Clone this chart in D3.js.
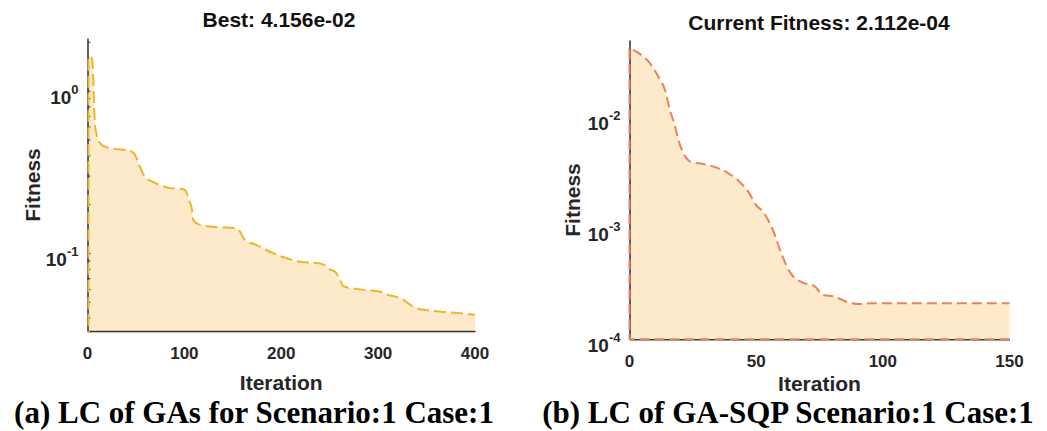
<!DOCTYPE html>
<html>
<head>
<meta charset="utf-8">
<script src="https://cdn.jsdelivr.net/npm/d3@7"></script>
<style>
  html, body { margin: 0; padding: 0; background: #fff; }
  svg { display: block; }
</style>
</head>
<body>
<svg id="chart" width="1047" height="431"></svg>
<script>
// GA learning curve (best fitness per iteration)
const gaIter = [1, 4, 5, 6, 6.8, 7.7, 9, 11, 15, 20, 28, 42, 48, 51, 54, 59, 67, 75, 85, 99, 102.5, 105, 107.6, 109, 116, 130, 154, 157.5, 162.6, 174.7, 185, 199, 206, 219.6, 240, 245, 250.5, 255.7, 260.8, 264, 274, 288, 302, 310.5, 319, 324, 331, 340, 350, 367.7, 381, 400];
const gaFit  = [1.62, 1.60, 1.52, 1.15, 0.80, 0.62, 0.55, 0.50, 0.462, 0.448, 0.438, 0.428, 0.412, 0.38, 0.341, 0.296, 0.275, 0.262, 0.251, 0.247, 0.234, 0.21, 0.189, 0.160, 0.149, 0.145, 0.142, 0.135, 0.120, 0.112, 0.104, 0.0958, 0.0927, 0.0883, 0.0863, 0.0843, 0.079, 0.0767, 0.068, 0.0625, 0.0605, 0.0591, 0.0577, 0.0551, 0.0537, 0.0525, 0.049, 0.0456, 0.0445, 0.0434, 0.0428, 0.04156];

// GA-SQP learning curve (current fitness per iteration)
const sqpIter = [0, 4.2, 8.1, 11.4, 14, 16, 18, 19.3, 21.3, 24.6, 29.1, 34.4, 38.6, 43, 47, 50, 52.7, 56.6, 59.9, 63.2, 68.4, 73, 76.4, 81, 85.6, 90.8, 95, 150];
const sqpFit  = [0.0419, 0.0371, 0.0306, 0.0232, 0.0176, 0.0116, 0.00822, 0.00624, 0.00474, 0.00393, 0.0038, 0.00352, 0.00318, 0.00268, 0.00212, 0.00162, 0.00141, 0.000966, 0.000596, 0.000407, 0.000324, 0.000302, 0.000251, 0.000242, 0.000218, 0.000208, 0.0002112, 0.0002112];

// Tick values
const gaXTicks = [0, 100, 200, 300, 400];
const gaYMajor = [1, 0.1];
const gaYMinor = [0.04, 0.05, 0.06, 0.07, 0.08, 0.09, 0.2, 0.3, 0.4, 0.5, 0.6, 0.7, 0.8, 0.9, 2];
const sqpXTicks = [0, 50, 100, 150];
const sqpYMajor = [1e-4, 1e-3, 1e-2];

const svg = d3.select("#chart");
const TEXT = "#262626";
const FILL = "#FDEACB";

function drawPanel(o) {
  const x = d3.scaleLinear().domain(o.xDomain).range([o.left, o.right]);
  const y = d3.scaleLog().domain(o.yDomain).range([o.bottom, o.top]);
  const g = svg.append("g");

  const clipId = "clip-" + o.id;
  svg.append("clipPath").attr("id", clipId)
    .append("rect")
    .attr("x", o.left - 2).attr("y", o.top)
    .attr("width", o.right - o.left + 4).attr("height", o.bottom - o.top + 2);

  const pts = o.iter.map((d, i) => [d, o.fit[i]]);

  // filled area under the curve
  const area = d3.area()
    .x(d => x(d[0])).y0(y(o.base)).y1(d => y(d[1]))
    .curve(d3.curveMonotoneX);
  g.append("path").datum(pts)
    .attr("clip-path", `url(#${clipId})`)
    .attr("d", area).attr("fill", FILL);

  // axes
  const yAxis = d3.axisLeft(y).tickValues(o.yMajor.concat(o.yMinor || []))
    .tickSizeInner(o.yMinor ? -3 : 0).tickSizeOuter(0).tickFormat("");
  const ya = g.append("g").attr("transform", `translate(${o.left},0)`).call(yAxis);
  ya.select(".domain").attr("stroke", "#3a3a3a").attr("stroke-width", 1.6);
  ya.selectAll(".tick line").attr("stroke", "#3a3a3a").attr("stroke-width", 1);

  const xAxis = d3.axisBottom(x).tickValues(o.xTicks).tickSizeInner(0).tickSizeOuter(0).tickFormat("");
  const xa = g.append("g").attr("transform", `translate(0,${o.bottom})`).call(xAxis);
  xa.select(".domain").attr("stroke", "#3a3a3a").attr("stroke-width", 1.6);

  // dashed outline: baseline, left edge, then the curve
  const line = d3.line().x(d => x(d[0])).y(d => y(d[1])).curve(d3.curveMonotoneX);
  const outline = [[o.xDomain[1], o.base], [o.iter[0], o.base]].map(d => [x(d[0]), y(d[1])]);
  const curveD = line(pts);
  const outlineD = `M${outline[0][0]},${outline[0][1]}L${outline[1][0]},${outline[1][1]}L` + curveD.slice(1);
  g.append("path")
    .attr("clip-path", `url(#${clipId})`)
    .attr("d", outlineD)
    .attr("fill", "none").attr("stroke", o.color)
    .attr("stroke-width", 2).attr("stroke-dasharray", o.dash);

  // x tick labels
  g.selectAll(".xl").data(o.xTicks).join("text")
    .attr("x", d => x(d)).attr("y", o.bottom + o.xLabelDy)
    .attr("text-anchor", "middle").attr("dominant-baseline", "central")
    .attr("font-family", "Liberation Sans, Arial, sans-serif")
    .attr("font-weight", "bold").attr("font-size", 17).attr("fill", TEXT)
    .text(d => d);

  // y tick labels as 10 with a superscript exponent
  o.yMajor.forEach(v => {
    const t = g.append("text")
      .attr("x", o.left - 9).attr("y", y(v) + 6)
      .attr("text-anchor", "end").attr("dominant-baseline", "central")
      .attr("font-family", "Liberation Sans, Arial, sans-serif")
      .attr("font-weight", "bold").attr("fill", TEXT);
    t.append("tspan").attr("font-size", 19).text("10");
    t.append("tspan").attr("font-size", 13).attr("dy", -8)
      .text(String(Math.round(Math.log10(v))));
  });

  // titles and axis labels
  g.append("text").attr("x", o.titleX).attr("y", o.titleY)
    .attr("text-anchor", "middle").attr("dominant-baseline", "central")
    .attr("font-family", "Liberation Sans, Arial, sans-serif")
    .attr("font-weight", "bold").attr("font-size", 21).attr("fill", "#111")
    .text(o.title);
  g.append("text").attr("x", (o.left + o.right) / 2).attr("y", o.xTitleY)
    .attr("text-anchor", "middle").attr("dominant-baseline", "central")
    .attr("font-family", "Liberation Sans, Arial, sans-serif")
    .attr("font-weight", "bold").attr("font-size", 21).attr("fill", TEXT)
    .text("Iteration");
  g.append("text")
    .attr("transform", `translate(${o.yTitleX},${o.yTitleY}) rotate(-90)`)
    .attr("text-anchor", "middle").attr("dominant-baseline", "central")
    .attr("font-family", "Liberation Sans, Arial, sans-serif")
    .attr("font-weight", "bold").attr("font-size", 21).attr("fill", TEXT)
    .text("Fitness");
  g.append("text").attr("x", o.capX).attr("y", 423)
    .attr("text-anchor", "middle")
    .attr("font-family", "Liberation Serif, Times New Roman, serif")
    .attr("font-weight", "bold").attr("font-size", 31).attr("fill", "#000")
    .text(o.caption);
}

drawPanel({
  id: "ga", iter: gaIter, fit: gaFit, base: 0.01,
  xDomain: [0, 400], yDomain: [0.0331, 2.11],
  left: 87.5, right: 475, top: 38, bottom: 331,
  xTicks: gaXTicks, yMajor: gaYMajor, yMinor: gaYMinor,
  color: "#EDB52E", dash: "12,5", xLabelDy: 22,
  title: "Best: 4.156e-02", titleX: 279, titleY: 19,
  xTitleY: 382.5, yTitleX: 32, yTitleY: 185,
  caption: "(a) LC of GAs for Scenario:1 Case:1", capX: 254
});

drawPanel({
  id: "sqp", iter: sqpIter, fit: sqpFit, base: 1e-4,
  xDomain: [0, 150], yDomain: [1e-4, 0.0497],
  left: 629.5, right: 1009.5, top: 40, bottom: 339.3,
  xTicks: sqpXTicks, yMajor: sqpYMajor, yMinor: null,
  color: "#E8835B", dash: "10,5", xLabelDy: 22.5,
  title: "Current Fitness: 2.112e-04", titleX: 819, titleY: 22.5,
  xTitleY: 383.5, yTitleX: 572, yTitleY: 200,
  caption: "(b) LC of GA-SQP Scenario:1 Case:1", capX: 788
});
</script>
</body>
</html>
